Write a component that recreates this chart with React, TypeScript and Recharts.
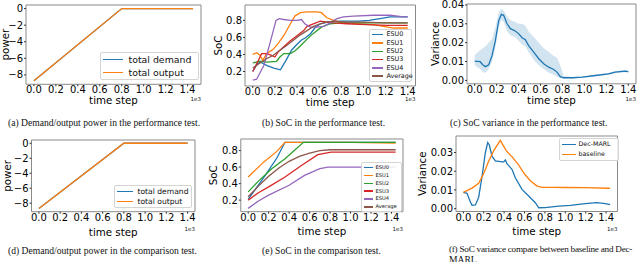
import React from 'react';
import { LineChart, ComposedChart, Line, Area, XAxis, YAxis, Legend, ReferenceArea } from 'recharts';

// time axis is in units of 1e3 steps
const timeTicks = [0, 0.2, 0.4, 0.6, 0.8, 1.0, 1.2, 1.4];
const powerTicks = [-8, -6, -4, -2, 0];
const socTicks = [0.2, 0.4, 0.6, 0.8];
const varTicksPerf = [0, 0.01, 0.02, 0.03, 0.04];
const varTicksCmp = [0, 0.01, 0.02, 0.03];

// (a) performance test power
const perfPowerT = [0, 0.8, 1.45];
const perfDemand = [-8.7, 0, 0];
const perfOutput = [-8.7, 0, 0];

// (d) comparison test power
const cmpPowerT = [0, 0.8, 1.4];
const cmpDemand = [-8.7, 0, 0];
const cmpOutput = [-8.7, 0, 0];

// (b) SoC, performance test
const perfEsu0T = [0, 0.04, 0.07, 0.13, 0.19, 0.25, 0.3, 0.35, 0.4, 0.44, 0.47, 0.52, 0.56, 0.61, 0.67, 0.8, 0.95, 1.05, 1.15, 1.24, 1.33, 1.4];
const perfEsu0 = [0.2, 0.29, 0.31, 0.27, 0.24, 0.22, 0.33, 0.45, 0.52, 0.57, 0.59, 0.64, 0.71, 0.76, 0.78, 0.79, 0.79, 0.8, 0.82, 0.84, 0.84, 0.84];
const perfEsu1T = [0, 0.035, 0.065, 0.09, 0.125, 0.185, 0.23, 0.28, 0.34, 0.38, 0.43, 0.49, 0.58, 0.62, 0.67, 0.73, 0.79, 0.94, 1.09, 1.18, 1.27, 1.33, 1.4];
const perfEsu1 = [0.4, 0.42, 0.39, 0.33, 0.41, 0.46, 0.53, 0.62, 0.76, 0.85, 0.89, 0.9, 0.9, 0.89, 0.83, 0.8, 0.78, 0.76, 0.75, 0.73, 0.71, 0.71, 0.71];
const perfEsu2T = [0, 0.065, 0.125, 0.215, 0.245, 0.28, 0.34, 0.38, 0.43, 0.49, 0.55, 0.62, 0.7, 0.79, 1.0, 1.2, 1.4];
const perfEsu2 = [0.3, 0.32, 0.31, 0.32, 0.37, 0.41, 0.41, 0.44, 0.5, 0.58, 0.65, 0.72, 0.76, 0.77, 0.77, 0.77, 0.77];
const perfEsu3T = [0, 0.05, 0.08, 0.125, 0.17, 0.2, 0.23, 0.28, 0.34, 0.4, 0.46, 0.49, 0.53, 0.61, 0.67, 0.73, 0.85, 1.03, 1.21, 1.4];
const perfEsu3 = [0.2, 0.33, 0.41, 0.41, 0.39, 0.37, 0.43, 0.49, 0.56, 0.62, 0.68, 0.73, 0.75, 0.79, 0.78, 0.77, 0.76, 0.75, 0.74, 0.74];
const perfEsu4T = [0, 0.035, 0.1, 0.155, 0.21, 0.24, 0.28, 0.34, 0.4, 0.44, 0.47, 0.52, 0.58, 0.64, 0.7, 0.76, 0.82, 0.91, 1.09, 1.24, 1.36, 1.4];
const perfEsu4 = [0.1, 0.11, 0.27, 0.53, 0.8, 0.82, 0.81, 0.8, 0.8, 0.81, 0.76, 0.72, 0.72, 0.73, 0.77, 0.82, 0.84, 0.85, 0.86, 0.86, 0.84, 0.84];
const perfAvgT = [0, 0.065, 0.125, 0.185, 0.245, 0.3, 0.37, 0.43, 0.49, 0.55, 0.61, 0.67, 0.73, 0.85, 1.0, 1.2, 1.4];
const perfAvg = [0.24, 0.3, 0.35, 0.39, 0.45, 0.5, 0.57, 0.63, 0.68, 0.73, 0.76, 0.78, 0.79, 0.78, 0.78, 0.77, 0.77];

// (c) SoC variance, performance test (mean and spread)
const varT = [0, 0.05, 0.073, 0.097, 0.128, 0.158, 0.188, 0.219, 0.243, 0.264, 0.295, 0.325, 0.37, 0.4, 0.432, 0.462, 0.49, 0.538, 0.584, 0.629, 0.675, 0.72, 0.75, 0.78, 0.81, 0.89, 0.98, 1.1, 1.22, 1.28, 1.37, 1.4];
const varMean = [0.0102, 0.0099, 0.0083, 0.0073, 0.0083, 0.0131, 0.021, 0.0317, 0.035, 0.0345, 0.03, 0.0274, 0.0262, 0.0248, 0.0226, 0.0216, 0.0186, 0.015, 0.0115, 0.0088, 0.007, 0.0058, 0.0044, 0.002, 0.0014, 0.0014, 0.0017, 0.0026, 0.0035, 0.0044, 0.0049, 0.0047];
const varLow = [0.008, 0.006, 0.0045, 0.004, 0.006, 0.01, 0.017, 0.028, 0.032, 0.031, 0.026, 0.024, 0.023, 0.021, 0.019, 0.018, 0.015, 0.011, 0.008, 0.006, 0.004, 0.003, 0.002, 0.0013, 0.001, 0.001, 0.0013, 0.0022, 0.003, 0.0038, 0.0043, 0.0041];
const varHigh = [0.0135, 0.016, 0.017, 0.018, 0.02, 0.022, 0.028, 0.036, 0.038, 0.037, 0.034, 0.032, 0.031, 0.03, 0.03, 0.029, 0.026, 0.023, 0.02, 0.017, 0.015, 0.013, 0.012, 0.008, 0.0025, 0.0018, 0.002, 0.003, 0.004, 0.005, 0.0055, 0.0053];

// (e) SoC, comparison test
const cmpEsu0T = [0, 0.15, 0.28, 0.36, 1.44];
const cmpEsu0 = [0.21, 0.47, 0.71, 0.9, 0.9];
const cmpEsu1T = [0, 0.15, 0.28, 0.36, 1.0, 1.44];
const cmpEsu1 = [0.48, 0.66, 0.79, 0.9, 0.9, 0.89];
const cmpEsu2T = [0, 0.1, 0.23, 0.36, 0.45, 0.54, 1.44];
const cmpEsu2 = [0.3, 0.43, 0.58, 0.7, 0.8, 0.9, 0.9];
const cmpEsu3T = [0, 0.1, 0.2, 0.36, 0.52, 0.68, 0.81, 1.44];
const cmpEsu3 = [0.2, 0.29, 0.36, 0.48, 0.62, 0.75, 0.78, 0.78];
const cmpEsu4T = [0, 0.1, 0.2, 0.4, 0.55, 0.7, 0.78, 1.44];
const cmpEsu4 = [0.1, 0.19, 0.26, 0.38, 0.5, 0.58, 0.6, 0.6];
const cmpAvgT = [0, 0.1, 0.2, 0.3, 0.4, 0.5, 0.6, 0.7, 0.8, 1.44];
const cmpAvg = [0.24, 0.37, 0.49, 0.59, 0.67, 0.73, 0.77, 0.8, 0.81, 0.81];

// (f) variance, Dec-MARL vs baseline
const marlT = [0, 0.036, 0.069, 0.085, 0.118, 0.15, 0.183, 0.216, 0.239, 0.255, 0.281, 0.314, 0.379, 0.395, 0.412, 0.428, 0.477, 0.51, 0.575, 0.641, 0.706, 0.739, 0.804, 0.935, 1.05, 1.196, 1.31, 1.392, 1.44];
const marlVar = [0.0087, 0.0082, 0.0036, 0.0018, 0.002, 0.006, 0.017, 0.03, 0.0353, 0.034, 0.028, 0.0255, 0.025, 0.025, 0.026, 0.024, 0.021, 0.0165, 0.0103, 0.0068, 0.0032, 0.0005, 0.0006, 0.0014, 0.0018, 0.0027, 0.0032, 0.0027, 0.0022];
const baseT = [0, 0.085, 0.15, 0.2, 0.249, 0.298, 0.363, 0.42, 0.48, 0.54, 0.6, 0.66, 0.72, 0.77, 0.87, 1.0, 1.2, 1.42, 1.44];
const baseVar = [0.0087, 0.011, 0.0135, 0.0188, 0.0255, 0.031, 0.0365, 0.031, 0.0275, 0.0235, 0.0185, 0.0148, 0.0122, 0.0114, 0.0114, 0.0113, 0.0112, 0.0109, 0.0108];

const blue = '#1f77b4';
const orange = '#ff7f0e';
const green = '#2ca02c';
const red = '#d62728';
const purple = '#9467bd';
const brown = '#8c564b';
const FONT = '"DejaVu Sans", sans-serif';

type Series = { name: string; color: string; t: number[]; v: number[] };

const perfPower: Series[] = [
  { name: 'total demand', color: blue, t: perfPowerT, v: perfDemand },
  { name: 'total output', color: orange, t: perfPowerT, v: perfOutput },
];
const cmpPower: Series[] = [
  { name: 'total demand', color: blue, t: cmpPowerT, v: cmpDemand },
  { name: 'total output', color: orange, t: cmpPowerT, v: cmpOutput },
];
const perfSoc: Series[] = [
  { name: 'ESU0', color: blue, t: perfEsu0T, v: perfEsu0 },
  { name: 'ESU1', color: orange, t: perfEsu1T, v: perfEsu1 },
  { name: 'ESU2', color: green, t: perfEsu2T, v: perfEsu2 },
  { name: 'ESU3', color: red, t: perfEsu3T, v: perfEsu3 },
  { name: 'ESU4', color: purple, t: perfEsu4T, v: perfEsu4 },
  { name: 'Average', color: brown, t: perfAvgT, v: perfAvg },
];
const cmpSoc: Series[] = [
  { name: 'ESU0', color: blue, t: cmpEsu0T, v: cmpEsu0 },
  { name: 'ESU1', color: orange, t: cmpEsu1T, v: cmpEsu1 },
  { name: 'ESU2', color: green, t: cmpEsu2T, v: cmpEsu2 },
  { name: 'ESU3', color: red, t: cmpEsu3T, v: cmpEsu3 },
  { name: 'ESU4', color: purple, t: cmpEsu4T, v: cmpEsu4 },
  { name: 'Average', color: brown, t: cmpAvgT, v: cmpAvg },
];
const cmpVar: Series[] = [
  { name: 'Dec-MARL', color: blue, t: marlT, v: marlVar },
  { name: 'baseline', color: orange, t: baseT, v: baseVar },
];

const zip = (t: number[], v: number[]) => t.map((x, i) => ({ t: x, v: v[i] }));
const varData = varT.map((t, i) => ({ t, mean: varMean[i], band: [varLow[i], varHigh[i]] }));

const fmt1 = (v: number) => v.toFixed(1);
const fmt2 = (v: number) => v.toFixed(2);
const fmtPow = (v: number) => (v < 0 ? '\u2212' + Math.abs(v) : String(v));

type LegendCfg = { x: number; y: number; w: number; fs: number; rowH: number; handle: number; gap: number; pad: number };

function MplLegend({ items, cfg }: { items: Series[]; cfg: LegendCfg }) {
  return (
    <div
      style={{
        width: cfg.w,
        boxSizing: 'border-box',
        border: '1px solid #d4d4d4',
        borderRadius: 2,
        background: 'rgba(255,255,255,0.85)',
        padding: `${cfg.pad}px ${cfg.pad + 1}px`,
        fontFamily: FONT,
        fontSize: cfg.fs,
        color: '#111',
      }}
    >
      {items.map((s) => (
        <div key={s.name} style={{ display: 'flex', alignItems: 'center', height: cfg.rowH }}>
          <span style={{ display: 'block', flex: 'none', width: cfg.handle, height: 1.4, background: s.color, marginRight: cfg.gap }} />
          <span style={{ lineHeight: 1, whiteSpace: 'nowrap' }}>{s.name}</span>
        </div>
      ))}
    </div>
  );
}

type PanelProps = {
  left: number;
  x0: number;
  x1: number;
  y0: number;
  y1: number;
  xDomain: [number, number];
  yDomain: [number, number];
  yTicks: number[];
  yFmt: (v: number) => string;
  yLabel: string;
  yLabelX: number; // page x of rotated label centre
  xLabelBase: number; // page y of "time step" baseline
  offsetY: number; // page y of the "1e3" text centre
  series?: Series[];
  legend?: LegendCfg;
  composed?: boolean;
  data?: any[];
  children?: React.ReactNode;
};

function Panel(p: PanelProps) {
  const T = 5;
  const R = 4;
  const XH = 28;
  const top = p.y0 - T;
  const YW = p.x0 - p.left;
  const width = p.x1 - p.left + R;
  const height = T + (p.y1 - p.y0) + XH;
  const tickStyle = { fontSize: 10, fill: '#000', fontFamily: FONT };
  const Chart: any = p.composed ? ComposedChart : LineChart;
  return (
    <>
      <div style={{ position: 'absolute', left: p.left, top }}>
        <Chart width={width} height={height} data={p.data} margin={{ top: T, right: R, left: 0, bottom: 0 }}>
          <XAxis
            dataKey="t"
            type="number"
            domain={p.xDomain}
            ticks={timeTicks}
            tickFormatter={fmt1}
            interval={0}
            allowDataOverflow
            height={XH}
            axisLine={false}
            tickSize={2}
            tickMargin={0}
            tickLine={{ stroke: '#333' }}
            tick={tickStyle}
            label={{ value: 'time step', position: 'insideBottom', offset: p.y1 + XH - p.xLabelBase, style: { fontSize: 10.3, fill: '#000', fontFamily: FONT } }}
          />
          <YAxis
            type="number"
            domain={p.yDomain}
            ticks={p.yTicks}
            tickFormatter={p.yFmt}
            interval={0}
            allowDataOverflow
            width={YW}
            axisLine={false}
            tickSize={2}
            tickMargin={1}
            tickLine={{ stroke: '#333' }}
            tick={tickStyle}
            label={{ value: p.yLabel, angle: -90, position: 'insideLeft', offset: p.yLabelX - p.left, style: { fontSize: 10.3, fill: '#000', fontFamily: FONT, textAnchor: 'middle' } }}
          />
          {p.children}
          {(p.series || []).map((s) => (
            <Line
              key={s.name}
              data={zip(s.t, s.v)}
              dataKey="v"
              name={s.name}
              stroke={s.color}
              strokeWidth={1.3}
              dot={false}
              activeDot={false}
              legendType="plainline"
              type="linear"
              isAnimationActive={false}
            />
          ))}
          <ReferenceArea x1={p.xDomain[0]} x2={p.xDomain[1]} y1={p.yDomain[0]} y2={p.yDomain[1]} fill="none" stroke="#8a8a8a" strokeWidth={1} />
          {p.legend && p.series && (
            <Legend
              layout="vertical"
              align="center"
              verticalAlign="middle"
              wrapperStyle={{ left: p.legend.x - p.left, top: p.legend.y - top, width: p.legend.w }}
              content={() => <MplLegend items={p.series as Series[]} cfg={p.legend as LegendCfg} />}
            />
          )}
        </Chart>
      </div>
      <div
        style={{
          position: 'absolute',
          left: p.x1 - 30,
          width: 30,
          top: p.offsetY - 3,
          textAlign: 'right',
          fontFamily: FONT,
          fontSize: 5.5,
          lineHeight: '6px',
          color: '#111',
        }}
      >
        1e3
      </div>
    </>
  );
}

const captionStyle: React.CSSProperties = {
  position: 'absolute',
  fontFamily: '"Liberation Serif", "Times New Roman", serif',
  fontSize: 9.6,
  lineHeight: '9.5px',
  color: '#111',
  whiteSpace: 'nowrap',
};

export default function App() {
  return (
    <div style={{ position: 'relative', width: 640, height: 262, overflow: 'hidden', background: '#fff' }}>
      <style>{'body{margin:0}'}</style>

      {/* (a) */}
      <Panel
        left={0} x0={26} x1={201} y0={5} y1={84.3}
        xDomain={[-0.0725, 1.5225]} yDomain={[-9.135, 0.435]}
        yTicks={powerTicks} yFmt={fmtPow} yLabel="power" yLabelX={5}
        xLabelBase={104.5} offsetY={99}
        series={perfPower}
        legend={{ x: 100, y: 52, w: 99, fs: 9.4, rowH: 12.5, handle: 20, gap: 6, pad: 0.5 }}
      />

      {/* (b) */}
      <Panel
        left={207} x0={245} x1={415.5} y0={5} y1={86}
        xDomain={[-0.07, 1.47]} yDomain={[0.03, 0.98]}
        yTicks={socTicks} yFmt={fmt1} yLabel="SoC" yLabelX={218.7}
        xLabelBase={106} offsetY={99}
        series={perfSoc}
        legend={{ x: 369, y: 29, w: 43, fs: 6.4, rowH: 8.3, handle: 11, gap: 4, pad: 0.5 }}
      />

      {/* (c) */}
      <Panel
        left={425} x0={467} x1={636} y0={3.5} y1={83.3}
        xDomain={[-0.07, 1.47]} yDomain={[-0.0018, 0.0405]}
        yTicks={varTicksPerf} yFmt={fmt2} yLabel="Variance" yLabelX={435.7}
        xLabelBase={104} offsetY={99}
        composed data={varData}
      >
        <Area dataKey="band" type="linear" stroke="none" fill={blue} fillOpacity={0.2} isAnimationActive={false} activeDot={false} />
        <Line dataKey="mean" type="linear" stroke={blue} strokeWidth={1.3} dot={false} activeDot={false} isAnimationActive={false} />
      </Panel>

      {/* (d) */}
      <Panel
        left={0} x0={31.5} x1={195} y0={140} y1={211.7}
        xDomain={[-0.07, 1.47]} yDomain={[-9.135, 0.435]}
        yTicks={powerTicks} yFmt={fmtPow} yLabel="power" yLabelX={7.5}
        xLabelBase={236} offsetY={229}
        series={cmpPower}
        legend={{ x: 114, y: 185, w: 78, fs: 7.6, rowH: 10, handle: 16, gap: 5, pad: 0.5 }}
      />

      {/* (e) */}
      <Panel
        left={204} x0={240.8} x1={403} y0={139} y1={211.7}
        xDomain={[-0.072, 1.512]} yDomain={[0.06, 0.94]}
        yTicks={socTicks} yFmt={fmt1} yLabel="SoC" yLabelX={213.5}
        xLabelBase={235.5} offsetY={229}
        series={cmpSoc}
        legend={{ x: 361, y: 162, w: 41, fs: 5.2, rowH: 7.9, handle: 9, gap: 3, pad: 0.5 }}
      />

      {/* (f) */}
      <Panel
        left={412} x0={456} x1={617.5} y0={136} y1={211.5}
        xDomain={[-0.072, 1.512]} yDomain={[-0.0015, 0.0388]}
        yTicks={varTicksCmp} yFmt={fmt2} yLabel="Variance" yLabelX={422.4}
        xLabelBase={235} offsetY={229}
        series={cmpVar}
        legend={{ x: 559, y: 138, w: 60, fs: 6.3, rowH: 10, handle: 14, gap: 3, pad: 0.5 }}
      />

      <div style={{ ...captionStyle, left: 8, top: 118 }}>(a) Demand/output power in the performance test.</div>
      <div style={{ ...captionStyle, left: 262, top: 118 }}>(b) SoC in the performance test.</div>
      <div style={{ ...captionStyle, left: 450, top: 118 }}>(c) SoC variance in the performance test.</div>
      <div style={{ ...captionStyle, left: 8, top: 246 }}>(d) Demand/output power in the comparison test.</div>
      <div style={{ ...captionStyle, left: 262, top: 246 }}>(e) SoC in the comparison test.</div>
      <div style={{ ...captionStyle, left: 449, top: 245, width: 188 }}>
        <div style={{ fontSize: 9.2, letterSpacing: -0.25 }}>(f) SoC variance compare between baseline and Dec-</div>
        <div>MARL.</div>
      </div>
    </div>
  );
}
